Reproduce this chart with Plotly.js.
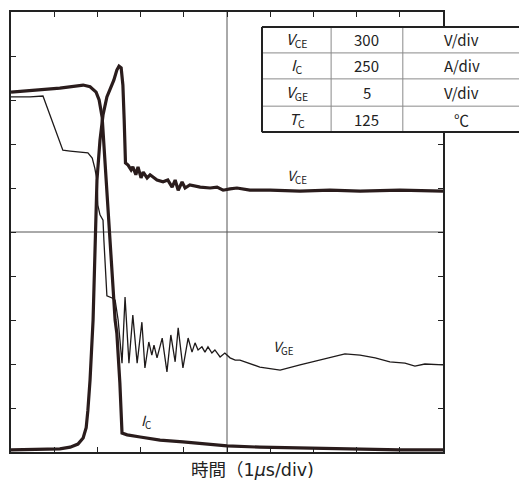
<!DOCTYPE html>
<html><head><meta charset="utf-8">
<script src="https://cdn.plot.ly/plotly-3.0.1.min.js"></script>
<style>html,body{margin:0;padding:0;background:#fff}#chart{width:519px;height:481px}</style>
</head><body><div id="chart"></div>
<script>
// time in µs (1 µs/div), amplitude in divisions
const timeIC = [0,0.67,1.13,1.67,1.83,1.97,2.04,2.11,2.20,2.31,2.41,2.45,2.52,2.57,2.69,2.99,3.45,3.98,5.0,5.76,6.69,7.85,9.0,10];
const divIC  = [8.18,8.23,8.27,8.34,8.30,8.18,8.0,7.61,6.14,4.59,3.0,2.70,1.57,0.43,0.39,0.34,0.27,0.23,0.14,0.11,0.09,0.07,0.05,0.05];

const timeVCE = [0,0.67,1.13,1.37,1.55,1.67,1.74,1.78,1.83,1.90,1.94,1.99,2.06,2.13,2.22,2.29,2.38,2.45,2.50,2.55,2.59,2.62,2.64,2.65,2.71,2.78,2.82,2.89,2.94,3.01,3.06,3.15,3.22,3.38,3.52,3.63,3.73,3.80,3.87,3.96,4.03,4.14,4.38,4.61,4.77,4.91,5.07,5.23,5.53,6.0,6.69,7.38,8.08,9.0,10];
const divVCE  = [0.05,0.07,0.07,0.11,0.18,0.32,0.55,0.95,1.64,3.0,4.59,6.18,7.09,7.66,8.07,8.23,8.45,8.68,8.77,8.73,8.34,7.55,6.86,6.57,6.52,6.41,6.48,6.30,6.48,6.23,6.36,6.23,6.30,6.18,6.14,6.18,6.02,6.18,5.95,6.14,6.0,6.07,6.02,6.0,6.02,5.95,5.98,6.0,5.95,5.95,5.93,5.95,5.93,5.95,5.93];

const timeVGE = [0,0.44,0.74,1.20,1.37,1.60,1.78,1.88,1.94,1.99,2.01,2.06,2.13,2.15,2.20,2.22,2.34,2.41,2.48,2.57,2.64,2.73,2.82,2.92,3.03,3.10,3.19,3.26,3.31,3.38,3.50,3.61,3.70,3.80,3.87,3.98,4.10,4.19,4.26,4.33,4.42,4.49,4.56,4.65,4.72,4.84,4.95,5.07,5.19,5.30,5.76,6.23,6.69,7.15,7.5,7.73,8.08,8.43,8.77,9.12,9.35,9.58,10];
const divVGE  = [8.07,8.07,8.09,6.86,6.84,6.82,6.80,6.68,6.45,6.18,5.61,5.39,5.27,4.82,4.02,3.55,3.5,3.45,3.0,2.02,3.52,2.02,3.11,2.02,2.95,1.91,2.5,2.20,2.43,2.14,2.59,1.82,2.66,2.05,2.82,1.91,2.59,2.27,2.48,2.32,2.39,2.27,2.39,2.25,2.32,2.16,2.25,2.14,2.09,2.09,1.93,1.86,1.98,2.09,2.18,2.23,2.20,2.14,2.05,2.02,1.95,2.0,1.98];

const labelText = ['<i>V</i><sub>CE</sub>', '<i>V</i><sub>GE</sub>', '<i>I</i><sub>C</sub>'];
const labelX = [6.62, 6.30, 3.12];
const labelY = [6.27, 2.39, 0.70];

const tableSymbols = ['<i>V</i><sub>CE</sub>', '<i>I</i><sub>C</sub>', '<i>V</i><sub>GE</sub>', '<i>T</i><sub>C</sub>'];
const tableValues  = ['300', '250', '5', '125'];
const tableUnits   = ['V/div', 'A/div', 'V/div', '℃'];

const xTitle = '時間（1<i>μ</i>s/div)';

const FONT = 'Noto Sans CJK JP, Noto Sans, sans-serif';
const TITLEFONT = 'DejaVu Sans, Noto Sans CJK JP, sans-serif';
const thick = '#2a1c1c';

const traces = [
  {x: timeVGE, y: divVGE, mode: 'lines', line: {color: '#1e1a1a', width: 1.3}, hoverinfo: 'skip'},
  {x: timeVCE, y: divVCE, mode: 'lines', line: {color: thick, width: 3.2}, hoverinfo: 'skip'},
  {x: timeIC,  y: divIC,  mode: 'lines', line: {color: thick, width: 3.2}, hoverinfo: 'skip'}
];

// table geometry (paper coords)
const tX = [0.581, 0.741, 0.907, 1.18];
const tY = [0.966, 0.907, 0.848, 0.786, 0.727];

const shapes = [
  {type: 'line', xref: 'x', yref: 'paper', x0: 5, x1: 5, y0: 0, y1: 1, line: {color: '#555', width: 1}, layer: 'below'},
  {type: 'line', xref: 'paper', yref: 'y', x0: 0, x1: 1, y0: 5, y1: 5, line: {color: '#555', width: 1}, layer: 'below'},
  {type: 'rect', xref: 'paper', yref: 'paper', x0: tX[0], x1: tX[3], y0: tY[4], y1: tY[0], fillcolor: '#fff', line: {width: 0}, layer: 'above'}
];
for (let i = 1; i < 4; i++) {
  shapes.push({type: 'line', xref: 'paper', yref: 'paper', x0: tX[0], x1: tX[3], y0: tY[i], y1: tY[i], line: {color: '#8a8a8a', width: 1}});
}
for (let j = 1; j < 3; j++) {
  shapes.push({type: 'line', xref: 'paper', yref: 'paper', x0: tX[j], x1: tX[j], y0: tY[4], y1: tY[0], line: {color: '#8a8a8a', width: 1}});
}
shapes.push({type: 'line', xref: 'paper', yref: 'paper', x0: tX[0], x1: tX[3], y0: tY[0], y1: tY[0], line: {color: '#222', width: 2}});
shapes.push({type: 'line', xref: 'paper', yref: 'paper', x0: tX[0], x1: tX[3], y0: tY[4], y1: tY[4], line: {color: '#222', width: 2}});
shapes.push({type: 'line', xref: 'paper', yref: 'paper', x0: tX[0], x1: tX[0], y0: tY[4], y1: tY[0], line: {color: '#222', width: 2}});

const annotations = [];
for (let i = 0; i < 3; i++) {
  annotations.push({x: labelX[i], y: labelY[i], xref: 'x', yref: 'y', text: labelText[i], showarrow: false,
    font: {family: FONT, size: 14, color: '#222'}});
}
const cols = [tableSymbols, tableValues, tableUnits];
for (let r = 0; r < 4; r++) {
  for (let c = 0; c < 3; c++) {
    annotations.push({xref: 'paper', yref: 'paper', x: (tX[c] + tX[c + 1]) / 2, y: (tY[r] + tY[r + 1]) / 2,
      text: cols[c][r], showarrow: false, xanchor: 'center', yanchor: 'middle',
      font: {family: FONT, size: 15, color: '#222'}});
  }
}
annotations.push({xref: 'paper', yref: 'paper', x: 0.558, y: -0.041, text: xTitle, showarrow: false,
  xanchor: 'center', yanchor: 'middle', font: {family: TITLEFONT, size: 17.5, color: '#222'}});

const axisCommon = {range: [0, 10], dtick: 1, tick0: 0, ticks: 'inside', ticklen: 5, tickwidth: 1, tickcolor: '#222',
  showline: true, linecolor: '#222', linewidth: 2, mirror: 'ticks', showgrid: false, zeroline: false,
  showticklabels: false, fixedrange: true};

const layout = {
  width: 519, height: 481,
  margin: {l: 11, r: 76, t: 12, b: 29, pad: 0},
  paper_bgcolor: '#fff', plot_bgcolor: '#fff',
  showlegend: false,
  font: {family: FONT},
  xaxis: Object.assign({}, axisCommon),
  yaxis: Object.assign({}, axisCommon),
  shapes: shapes,
  annotations: annotations
};

Plotly.newPlot('chart', traces, layout, {staticPlot: true, displayModeBar: false});
</script>
</body></html>
